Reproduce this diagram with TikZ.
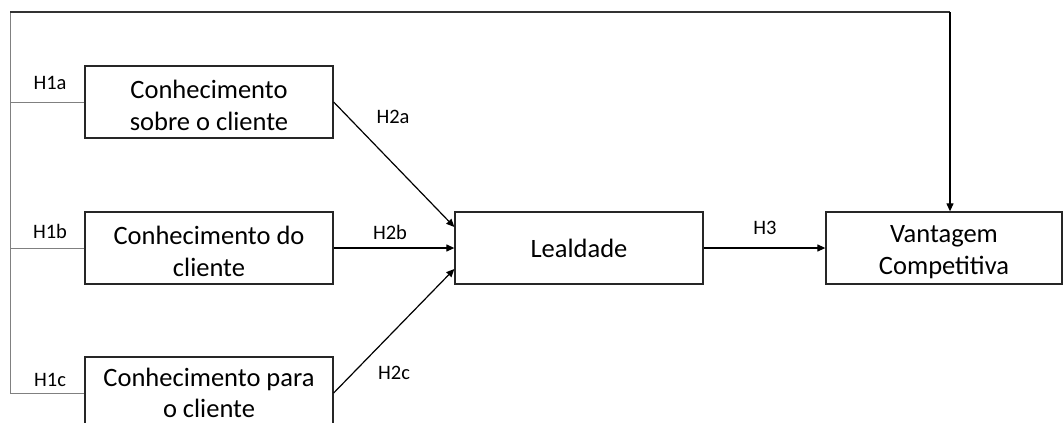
\documentclass[tikz,border=0pt]{standalone}
\usepackage{fontspec}
\setmainfont{Carlito}
\usetikzlibrary{arrows.meta}
\newcommand{\toppad}{\rule{0pt}{25pt}}
\begin{document}
\begin{tikzpicture}[x=1pt,y=-1pt,
  boxnode/.style={draw=black!85,line width=1.3pt,minimum width=248pt,minimum height=72pt,
    align=center,inner sep=0pt,font=\fontsize{26.5}{32}\selectfont},
  hlabel/.style={font=\fontsize{20.5}{24}\selectfont,inner sep=0pt},
  arr/.style={draw=black,line width=1.2pt,-{Triangle[length=8pt,width=7pt]}},
  feed/.style={draw=black!50,line width=1pt}]
\useasboundingbox (0,0) rectangle (1063,423);
\node[boxnode] (b1) at (209,102) {\toppad Conhecimento\\sobre o cliente};
\node[boxnode] (b2) at (209,248) {\toppad Conhecimento do\\cliente};
\node[boxnode,font=\fontsize{26.5}{31}\selectfont] (b3) at (209,393) {Conhecimento para\\o cliente};
\node[boxnode] (lea) at (579,248) {Lealdade};
\node[boxnode,minimum width=236pt] (van) at (944,248) {\toppad Vantagem\\Competitiva};
\coordinate (L) at (10,12);
\coordinate (T) at (950,12);
\draw[feed] (b1.west) -- (b1.west -| L);
\draw[feed] (b2.west) -- (b2.west -| L);
\draw[feed] (b3.west) -- (b3.west -| L) -- (L);
\draw[line width=1.1pt,draw=black!80] (L) -- (T);
\draw[arr] (T) -- (T |- van.north);
\draw[arr] (b1.east) -- ([yshift=21pt]lea.west);
\draw[arr] (b2.east) -- (lea.west);
\draw[arr] (b3.east) -- ([yshift=-21pt]lea.west);
\draw[arr] (lea.east) -- (van.west);
\node[hlabel] (h1a) at (50,83) {H1a};
\node[hlabel] (h1b) at (50,231) {H1b};
\node[hlabel] (h1c) at (50,380) {H1c};
\node[hlabel] (h2a) at (393,117) {H2a};
\node[hlabel] (h2b) at (390,232) {H2b};
\node[hlabel] (h2c) at (394,373) {H2c};
\node[hlabel] (h3) at (765,228) {H3};
\end{tikzpicture}
\end{document}
